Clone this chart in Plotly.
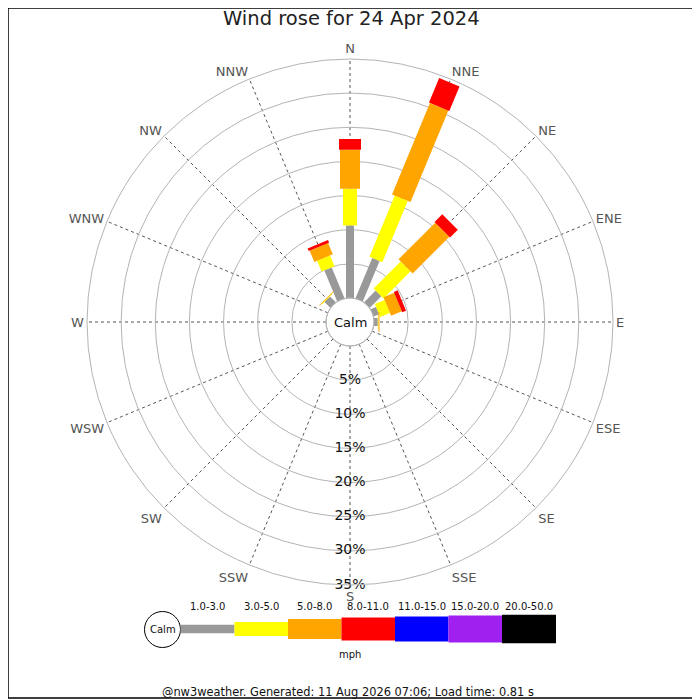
import plotly.graph_objects as go

# wind rose data (percent of time) for 24 Apr 2024
directions = ["N", "NNE", "NE", "ENE", "E", "ESE", "SE", "SSE",
              "S", "SSW", "SW", "WSW", "W", "WNW", "NW", "NNW"]
speed_bins = ["1.0-3.0", "3.0-5.0", "5.0-8.0", "8.0-11.0", "11.0-15.0", "15.0-20.0", "20.0-50.0"]

# one list per speed bin, in the order of `directions`
pct_1_3 = [10.6, 6.4, 2.4, 0.85, 0.55, 0, 0, 0, 0, 0, 0, 0, 0, 0, 1.2, 4.9]
pct_3_5 = [5.4, 9.7, 5.6, 1.55, 0.1, 0, 0, 0, 0, 0, 0, 0, 0, 0, 0.1, 1.7]
pct_5_8 = [5.7, 14.5, 7.6, 1.7, 0.15, 0, 0, 0, 0, 0, 0, 0, 0, 0, 0.1, 1.8]
pct_8_11 = [1.6, 3.9, 1.6, 0.6, 0, 0, 0, 0, 0, 0, 0, 0, 0, 0, 0, 0.4]

rings = [5, 10, 15, 20, 25, 30, 35]
ring_labels = [f"{v}%" for v in rings]

title = "Wind rose for 24 Apr 2024"
footer = "@nw3weather. Generated: 11 Aug 2026 07:06; Load time: 0.81 s"

colors = ["#999999", "#ffff00", "#ffa500", "#ff0000", "#0000ff", "#a020f0", "#000000"]
bar_px = [8, 14, 20, 22]

# the page puts the plot 8px in from the window corner
PAGE = 8
W = H = 700 - PAGE
CX, CY, R, HOLE = 350, 322, 263, 24


def px(x, y):
    return (x - PAGE) / W, 1 - (y - PAGE) / H


fig = go.Figure()

# stacked segments, drawn as thick radial strokes (rectangles like the original)
series = [pct_1_3, pct_3_5, pct_5_8, pct_8_11]
base = [0.0] * len(directions)
for k, vals in enumerate(series):
    r, th = [], []
    for i, d in enumerate(directions):
        if vals[i] > 0:
            r += [base[i], base[i] + vals[i], None]
            th += [d, d, None]
        base[i] += vals[i]
    fig.add_trace(go.Scatterpolar(
        r=r, theta=th, mode="lines", connectgaps=False,
        line=dict(color=colors[k], width=bar_px[k]),
        hoverinfo="skip", showlegend=False,
    ))

# ring labels along the south spoke
fig.add_trace(go.Scatterpolar(
    r=rings, theta=["S"] * len(rings), mode="text", text=ring_labels,
    textfont=dict(size=14, color="#111"), textposition="middle center",
    hoverinfo="skip", showlegend=False,
))

x0, y1 = px(CX - R, CY - R)
x1, y0 = px(CX + R, CY + R)

fig.update_layout(
    width=W, height=H,
    margin=dict(l=0, r=0, t=0, b=0),
    paper_bgcolor="white",
    font=dict(family="DejaVu Sans", color="#111"),
    polar=dict(
        domain=dict(x=[x0, x1], y=[y0, y1]),
        hole=HOLE / R,
        bgcolor="white",
        radialaxis=dict(range=[0, 35], tickvals=rings, showticklabels=False,
                        showline=False, ticks="", gridcolor="#b4b4b4", gridwidth=1),
        angularaxis=dict(type="category", categoryarray=directions, rotation=90,
                         direction="clockwise", showline=True, linecolor="#b4b4b4",
                         gridcolor="#555555", griddash="dot", gridwidth=0.8, ticks="",
                         tickfont=dict(size=13, color="#555")),
    ),
)

shapes = []
annotations = []


def label(x, y, text, size, color="#111"):
    tx, ty = px(x, y)
    annotations.append(dict(x=tx, y=ty, xref="paper", yref="paper", text=text, showarrow=False,
                            xanchor="center", yanchor="middle",
                            font=dict(size=size, color=color)))


# calm circle in the middle
a, b = px(CX - HOLE, CY - HOLE)
c, d = px(CX + HOLE, CY + HOLE)
shapes.append(dict(type="circle", xref="paper", yref="paper", x0=a, x1=c, y0=d, y1=b,
                   line=dict(color="#b4b4b4", width=1)))

# legend: calm circle, then one block per speed bin
a, b = px(144.5, 611.5)
c, d = px(180.5, 647.5)
shapes.append(dict(type="circle", xref="paper", yref="paper", x0=a, x1=c, y0=d, y1=b,
                   line=dict(color="black", width=1)))
leg_x = [180.5, 234.5, 288, 341.5, 395, 448.5, 502, 556]
leg_h = [8.5, 14, 20, 23, 25, 27, 28.5]
for k, lab in enumerate(speed_bins):
    xa, ya = px(leg_x[k], 629 - leg_h[k] / 2)
    xb, yb = px(leg_x[k + 1], 629 + leg_h[k] / 2)
    shapes.append(dict(type="rect", xref="paper", yref="paper", x0=xa, x1=xb, y0=yb, y1=ya,
                       fillcolor=colors[k], line=dict(width=0), layer="above"))
    label((leg_x[k] + leg_x[k + 1]) / 2, 606.5, lab, 10)

# figure border
shapes.append(dict(type="rect", xref="paper", yref="paper", x0=0.0, x1=0.9985, y0=0.003, y1=1.0,
                   line=dict(color="black", width=1.5)))

label(162.5, 629.5, "Calm", 10)
label(CX, CY, "Calm", 13)
label(350, 654, "mph", 10)
label(351, 18, title, 19.5, "#222")
label(348, 692, footer, 11.4)

fig.update_layout(shapes=shapes, annotations=annotations)

fig.write_html("out.html")
